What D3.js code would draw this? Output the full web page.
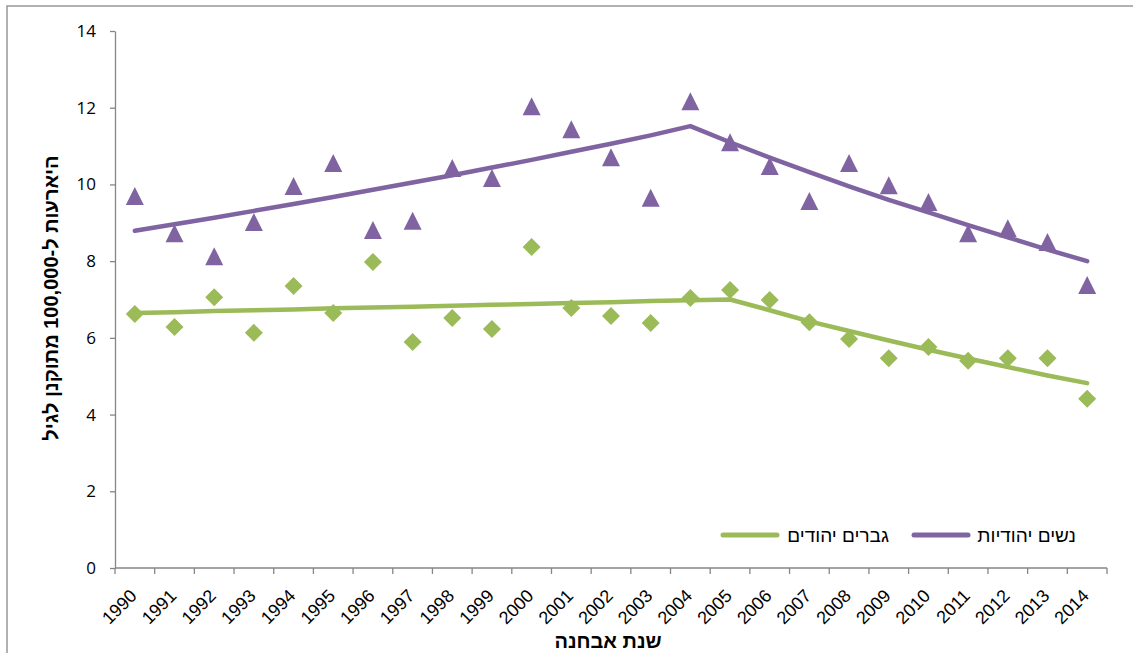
<!DOCTYPE html>
<html lang="he">
<head>
<meta charset="utf-8">
<title>היארעות</title>
<script src="https://d3js.org/d3.v7.min.js"></script>
<style>
  body { margin: 0; background: #fff; }
  svg { display: block; }
  .axis path, .axis line { stroke: #868686; stroke-width: 1.3; }
</style>
</head>
<body>
<div id="chart"></div>
<script>
// years on the x axis
var years = d3.range(1990, 2015).map(String);
var yTicks = [0, 2, 4, 6, 8, 10, 12, 14];

// observed rates (markers)
var womenObs = [9.7, 8.73, 8.13, 9.02, 9.96, 10.56, 8.81, 9.05, 10.43, 10.17, 12.04, 11.44, 10.71,
                9.65, 12.17, 11.1, 10.48, 9.57, 10.56, 9.98, 9.54, 8.73, 8.86, 8.5, 7.38];
var menObs = [6.62, 6.28, 7.06, 6.13, 7.35, 6.65, 7.98, 5.89, 6.52, 6.23, 8.37, 6.78, 6.57,
              6.39, 7.04, 7.25, 6.99, 6.41, 5.97, 5.47, 5.76, 5.4, 5.47, 5.47, 4.41];

// fitted trend (lines)
var womenFit = [8.79, 8.96, 9.13, 9.31, 9.49, 9.67, 9.86, 10.05, 10.24, 10.44, 10.64, 10.85, 11.06,
                11.28, 11.52, 11.1, 10.7, 10.32, 9.95, 9.6, 9.27, 8.94, 8.62, 8.3, 8.0];
var menFit = [6.65, 6.67, 6.7, 6.72, 6.74, 6.77, 6.79, 6.81, 6.84, 6.86, 6.88, 6.91, 6.93,
              6.96, 6.98, 7.0, 6.72, 6.43, 6.18, 5.93, 5.69, 5.46, 5.24, 5.02, 4.82];

var seriesNames = ["נשים יהודיות", "גברים יהודים"];
var yTitle = "היארעות  ל-100,000 מתוקנן לגיל";
var xTitle = "שנת אבחנה";

var W = 1133, H = 653;
var purple = "#8064A2", green = "#9BBB59";
var arial = "'Liberation Sans', Arial, sans-serif";

var svg = d3.select("#chart").append("svg").attr("width", W).attr("height", H);

// outer chart frame
svg.append("rect").attr("x", 7).attr("y", 6).attr("width", 1200).attr("height", 800)
  .attr("fill", "none").attr("stroke", "#888").attr("stroke-width", 1.3);

var x = d3.scaleBand().domain(years).range([115, 1107]);
var y = d3.scaleLinear().domain([0, 14]).range([568, 31]);
var cx = function (d, i) { return x(years[i]) + x.bandwidth() / 2; };

// y axis
var yAxis = svg.append("g").attr("class", "axis").attr("transform", "translate(115,0)")
  .call(d3.axisLeft(y).tickValues(yTicks).tickSize(5).tickPadding(14).tickSizeOuter(0));
yAxis.selectAll("text").style("font-family", "'Open Sans', sans-serif").style("font-size", "17px").attr("fill", "#000");

// x axis line and boundary ticks
var xg = svg.append("g").attr("class", "axis");
xg.append("line").attr("x1", 115).attr("x2", 1107).attr("y1", 568).attr("y2", 568);
var edges = years.map(function (d) { return x(d); }).concat([x(years[years.length - 1]) + x.bandwidth()]);
xg.selectAll("line.tk").data(edges).enter().append("line").attr("class", "tk")
  .attr("x1", function (d) { return d; }).attr("x2", function (d) { return d; })
  .attr("y1", 568).attr("y2", 574);
xg.selectAll("text").data(years).enter().append("text")
  .attr("transform", function (d) { return "translate(" + (x(d) + x.bandwidth() / 2 + 3) + ",597) rotate(-45)"; })
  .attr("text-anchor", "end")
  .style("font-family", arial).style("font-size", "18px")
  .text(function (d) { return d; });

// axis titles
svg.append("text").attr("transform", "translate(58,298) rotate(-90)")
  .attr("direction", "rtl").attr("text-anchor", "middle")
  .style("font-family", arial).style("font-size", "20px").style("font-weight", "bold")
  .text(yTitle);
svg.append("text").attr("x", 608).attr("y", 648).attr("text-anchor", "middle")
  .style("font-family", arial).style("font-size", "20px").style("font-weight", "bold")
  .text(xTitle);

// trend lines
var line = d3.line().x(cx).y(function (d) { return y(d); });
svg.append("path").datum(womenFit).attr("d", line).attr("fill", "none")
  .attr("stroke", purple).attr("stroke-width", 4.5).attr("stroke-linecap", "round").attr("stroke-linejoin", "round");
svg.append("path").datum(menFit).attr("d", line).attr("fill", "none")
  .attr("stroke", green).attr("stroke-width", 4.5).attr("stroke-linecap", "round").attr("stroke-linejoin", "round");

// marker shapes (excel style: as tall as wide)
var triangle = { draw: function (ctx, size) {
  var s = Math.sqrt(size) / 2;
  ctx.moveTo(0, -s); ctx.lineTo(s, s); ctx.lineTo(-s, s); ctx.closePath();
} };
var diamond = { draw: function (ctx, size) {
  var s = Math.sqrt(size) / 2;
  ctx.moveTo(0, -s); ctx.lineTo(s, 0); ctx.lineTo(0, s); ctx.lineTo(-s, 0); ctx.closePath();
} };

svg.append("g").selectAll("path").data(womenObs).enter().append("path")
  .attr("d", d3.symbol().type(triangle).size(18 * 18))
  .attr("transform", function (d, i) { return "translate(" + cx(d, i) + "," + y(d) + ")"; })
  .attr("fill", purple);
svg.append("g").selectAll("path").data(menObs).enter().append("path")
  .attr("d", d3.symbol().type(diamond).size(18 * 18))
  .attr("transform", function (d, i) { return "translate(" + cx(d, i) + "," + y(d) + ")"; })
  .attr("fill", green);

// legend (right to left)
var legend = [
  { name: seriesNames[0], color: purple, textRight: 1076, x1: 914, x2: 968 },
  { name: seriesNames[1], color: green, textRight: 889, x1: 723, x2: 777 }
];
var lg = svg.append("g").selectAll("g").data(legend).enter().append("g");
lg.append("line").attr("x1", function (d) { return d.x1; }).attr("x2", function (d) { return d.x2; })
  .attr("y1", 535).attr("y2", 535).attr("stroke", function (d) { return d.color; })
  .attr("stroke-width", 5).attr("stroke-linecap", "round");
lg.append("text").attr("x", function (d) { return d.textRight; }).attr("y", 542)
  .attr("text-anchor", "end")
  .style("font-family", arial).style("font-size", "19px")
  .text(function (d) { return d.name; });
</script>
</body>
</html>
